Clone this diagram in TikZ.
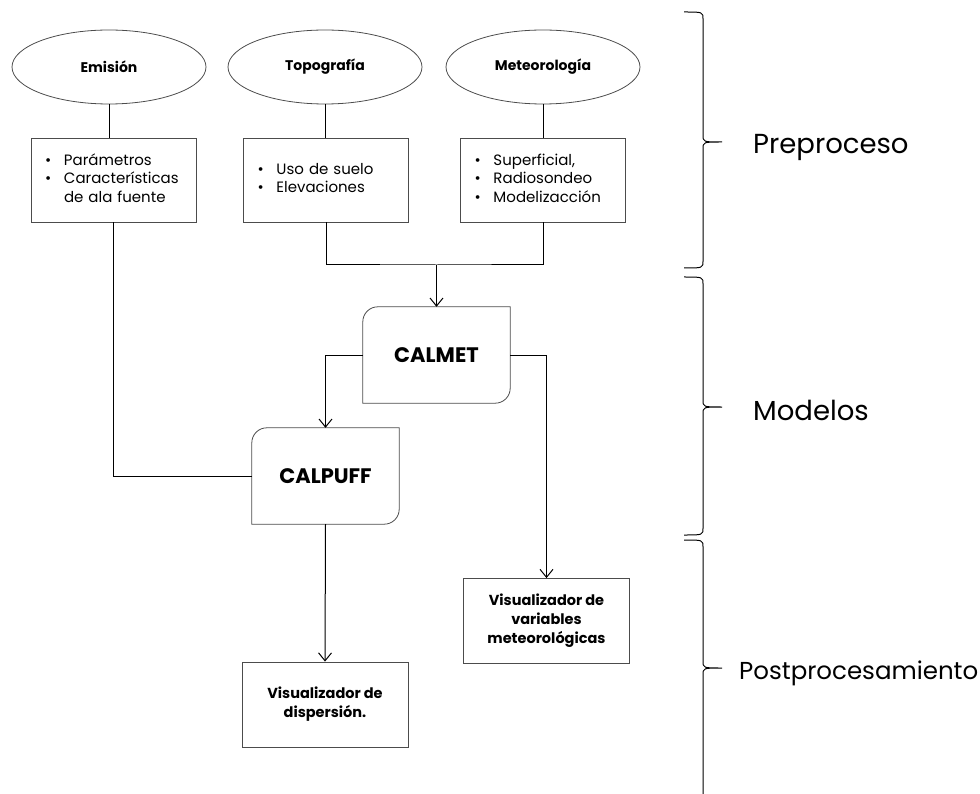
\documentclass[tikz,border=0pt]{standalone}
\usepackage{fontspec}
\setmainfont{Poppins}
\usetikzlibrary{shapes.geometric,arrows.meta}

\begin{document}
\begin{tikzpicture}[x=1pt,y=-1pt,
  elipse/.style={draw=black!70,line width=0.8pt,ellipse,minimum width=194pt,minimum height=74pt,inner sep=0pt,font=\bfseries\fontsize{14}{16}\selectfont},
  lista/.style={draw=black!70,line width=0.8pt,rectangle,text width=137pt,inner xsep=14pt,inner ysep=0pt,minimum height=84pt,align=left,font=\fontsize{15}{18.5}\selectfont},
  modelo/.style={rectangle,minimum width=147pt,minimum height=96pt,inner sep=0pt,font=\bfseries\fontsize{21}{23}\selectfont},
  salida/.style={draw=black!70,line width=0.8pt,rectangle,minimum width=166pt,minimum height=85pt,inner sep=0pt,align=center,font=\bfseries\fontsize{14.5}{19}\selectfont},
  linea/.style={line width=1pt},
  flecha/.style={line width=1pt,-{Straight Barb[length=8pt,width=13pt]}},
  etapa/.style={anchor=west,inner sep=0pt,font=\fontsize{27.5}{31}\selectfont}]
\useasboundingbox (0,0) rectangle (980,794);

% entradas
\node[elipse] (emi) at (109,67) {Emisión};
\node[elipse] (topo) at (325,67) {Topografía};
\node[elipse] (meteo) at (543,67) {Meteorología};

\node[lista] (emibox) at (113.5,180) {\begin{tabular}{@{}p{19pt}@{}l@{}}
\textbullet & Parámetros\\
\textbullet & Características\\
 & de ala fuente
\end{tabular}};
\node[lista] (topobox) at (326,180) {\begin{tabular}{@{}p{19pt}@{}l@{}}
\textbullet & Uso de suelo\\
\textbullet & Elevaciones
\end{tabular}};
\node[lista] (meteobox) at (543,180) {\begin{tabular}{@{}p{19pt}@{}l@{}}
\textbullet & Superficial,\\
\textbullet & Radiosondeo\\
\textbullet & Modelizacción
\end{tabular}};

% modelos
\node[modelo] (calmet) at (436.5,355) {CALMET};
\node[modelo] (calpuff) at (325.5,476) {CALPUFF};
\foreach \n in {calmet,calpuff}
  \draw[draw=black!70,line width=0.8pt] ([yshift=-15pt]\n.north west) arc[start angle=180,end angle=90,radius=15pt]
    -- (\n.north east) -- ([yshift=15pt]\n.south east) arc[start angle=0,end angle=-90,radius=15pt]
    -- (\n.south west) -- cycle;

% salidas
\node[salida] (varbox) at (546.5,621) {Visualizador de\\variables\\meteorológicas};
\node[salida] (dispbox) at (325,704.5) {Visualizador de\\dispersión.};

% conexiones
\draw[linea] (emi.south) -- (emi.south |- emibox.north);
\draw[linea] (topo.south) -- (topo.south |- topobox.north);
\draw[linea] (meteo.south) -- (meteo.south |- meteobox.north);
\coordinate (union) at (436.5,265);
\draw[linea] (topobox.south) |- (union) -| (meteobox.south);
\draw[flecha] (union) -- (calmet.north);
\draw[linea] (emibox.south) |- (calpuff.west);
\draw[flecha] (calmet.west) -| (calpuff.north);
\draw[flecha] (calmet.east) -| (varbox.north);
\draw[flecha] (calpuff.south) -- (dispbox.north);

% llaves
\foreach \ya/\ym/\yb in {12/142/268, 277/407/535, 540/668/830}
  \draw[linea] (684,\ya) .. controls (703,\ya) .. (703,\ya+7) -- (703,\ym-7)
    .. controls (703,\ym) .. (722,\ym) .. controls (703,\ym) .. (703,\ym+7)
    -- (703,\yb-7) .. controls (703,\yb) .. (684,\yb);

\node[etapa] (pre) at (753,147) {Preproceso};
\node[etapa] (mod) at (753,410) {Modelos};
\node[etapa,font=\fontsize{24.5}{28}\selectfont] (post) at (739,673) {Postprocesamiento};
\end{tikzpicture}
\end{document}
